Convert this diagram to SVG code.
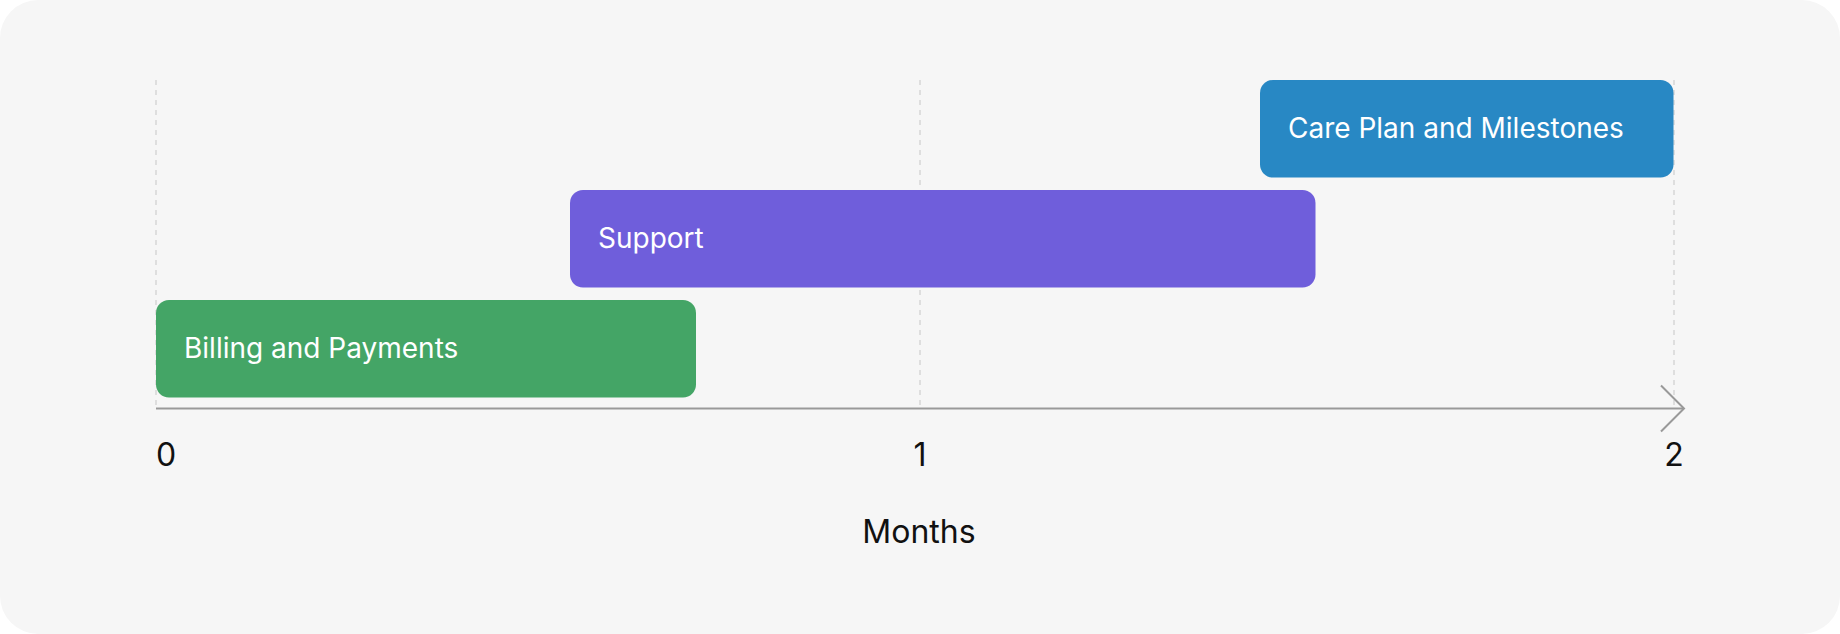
<svg xmlns="http://www.w3.org/2000/svg" width="1840" height="634" viewBox="0 0 1840 634">
<style>
.bar-label{font-family:Inter,"Noto Sans","Liberation Sans",sans-serif;font-size:28px;fill:#ffffff}
.tick{font-family:Inter,"Noto Sans","Liberation Sans",sans-serif;font-size:32px;fill:#111111}
.axis-title{font-family:Inter,"Noto Sans","Liberation Sans",sans-serif;font-size:32px;fill:#111111}
.grid{stroke:#d6d6d6;stroke-width:1.5;stroke-dasharray:5 5;fill:none}
.axis{stroke:#999999;stroke-width:2;fill:none}
</style>
<rect x="0" y="0" width="1840" height="634" fill="#ffffff"/>
<rect id="background" x="0" y="0" width="1840" height="634" rx="38" ry="38" fill="#f6f6f6"/>
<g id="gridlines">
<line class="grid" x1="156" y1="80" x2="156" y2="408"/>
<line class="grid" x1="920" y1="80" x2="920" y2="408"/>
<line class="grid" x1="1674" y1="80" x2="1674" y2="408"/>
</g>
<g id="connectors">
<line class="axis" x1="156" y1="408.5" x2="1684" y2="408.5"/>
<polyline class="axis" points="1661,385.5 1684,408.5 1661,431.5"/>
</g>
<g id="node-care-plan">
<rect x="1260" y="80" width="413.5" height="97.5" rx="13" fill="#2888c4"/>
<text class="bar-label" x="1288" y="138">Care Plan and Milestones</text>
</g>
<g id="node-support">
<rect x="570" y="190" width="745.5" height="97.5" rx="13" fill="#6f5edb"/>
<text class="bar-label" x="598" y="248">Support</text>
</g>
<g id="node-billing">
<rect x="156" y="300" width="540" height="97.5" rx="13" fill="#44a566"/>
<text class="bar-label" x="184" y="358">Billing and Payments</text>
</g>
<g id="axis-labels">
<text class="tick" x="156" y="466">0</text>
<text class="tick" x="920" y="466" text-anchor="middle">1</text>
<text class="tick" x="1674" y="466" text-anchor="middle">2</text>
<text class="axis-title" x="919" y="543" text-anchor="middle">Months</text>
</g>
</svg>
